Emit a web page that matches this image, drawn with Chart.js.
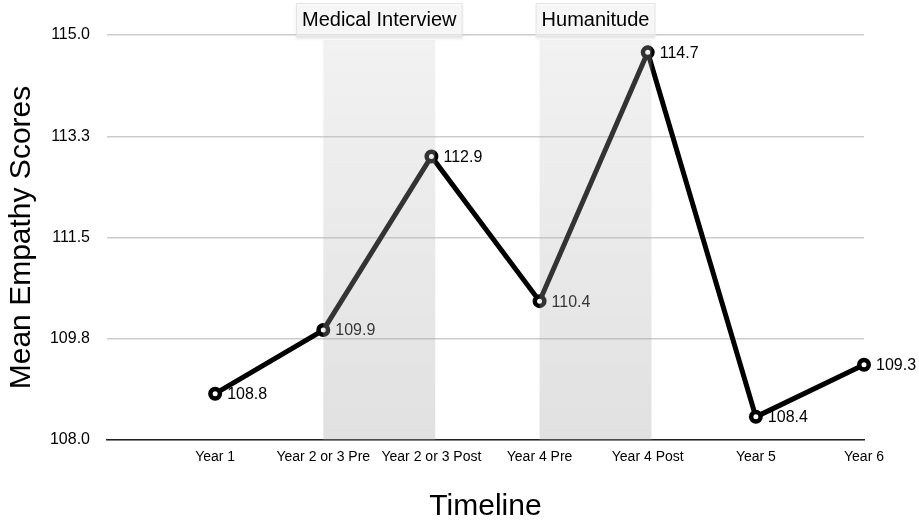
<!DOCTYPE html>
<html>
<head>
<meta charset="utf-8">
<script src="https://cdn.jsdelivr.net/npm/chart.js@4.4.0/dist/chart.umd.min.js"></script>
<style>
  html, body { margin: 0; padding: 0; background: #fff; }
  #wrap { width: 919px; height: 522px; }
</style>
</head>
<body>
<div id="wrap"><canvas id="c" width="919" height="522"></canvas></div>
<script>
// ---- data ----
const categories = ['', 'Year 1', 'Year 2 or 3 Pre', 'Year 2 or 3 Post', 'Year 4 Pre', 'Year 4 Post', 'Year 5', 'Year 6'];
const empathyScores = [null, 108.8, 109.9, 112.9, 110.4, 114.7, 108.4, 109.3];
const yTickValues = [108.0, 109.75, 111.5, 113.25, 115.0];
const bandStarts = ['Year 2 or 3 Pre', 'Year 4 Pre'];
const bandEnds = ['Year 2 or 3 Post', 'Year 4 Post'];
const bandLabels = ['Medical Interview', 'Humanitude'];

const FONT = '"Liberation Sans", Arial, Helvetica, sans-serif';

const overlayPlugin = {
  id: 'overlay',
  afterDatasetsDraw(chart) {
    const ctx = chart.ctx;
    const meta = chart.getDatasetMeta(0);
    const xs = chart.scales.x;
    const area = chart.chartArea;
    // value labels
    ctx.save();
    ctx.font = '16px ' + FONT;
    ctx.fillStyle = '#000';
    ctx.textAlign = 'left';
    ctx.textBaseline = 'middle';
    meta.data.forEach((pt, i) => {
      const v = empathyScores[i];
      if (v === null || v === undefined) return;
      ctx.fillText(v.toFixed(1), pt.x + 12, pt.y + 1);
    });
    ctx.restore();
    // shaded bands
    const step = xs.getPixelForValue(2) - xs.getPixelForValue(1);
    bandStarts.forEach((s, k) => {
      const x0 = xs.getPixelForValue(categories.indexOf(s));
      const x1 = xs.getPixelForValue(categories.indexOf(bandEnds[k])) + step * 0.035;
      const top = area.top + 5;
      const bottom = area.bottom;
      ctx.save();
      const g = ctx.createLinearGradient(0, top, 0, bottom);
      g.addColorStop(0, 'rgba(200,200,200,0.25)');
      g.addColorStop(1, 'rgba(160,160,160,0.32)');
      ctx.fillStyle = g;
      ctx.fillRect(x0, top, x1 - x0, bottom - top);
      // header box
      const cx = (x0 + x1) / 2;
      ctx.font = '20px ' + FONT;
      const w = ctx.measureText(bandLabels[k]).width + 12;
      const bx = cx - w / 2, by = 3, bh = 34;
      ctx.shadowColor = 'rgba(0,0,0,0.15)';
      ctx.shadowBlur = 2;
      ctx.shadowOffsetY = 1.5;
      ctx.fillStyle = 'rgba(255,255,255,0.55)';
      ctx.fillRect(bx, by, w, bh);
      ctx.shadowColor = 'transparent';
      ctx.strokeStyle = '#e4e4e4';
      ctx.lineWidth = 1;
      ctx.strokeRect(bx + 0.5, by + 0.5, w - 1, bh - 1);
      ctx.fillStyle = '#000';
      ctx.textAlign = 'center';
      ctx.textBaseline = 'middle';
      ctx.fillText(bandLabels[k], cx, 20);
      ctx.restore();
    });
  }
};

new Chart(document.getElementById('c'), {
  type: 'line',
  data: {
    labels: categories,
    datasets: [{
      data: empathyScores,
      borderColor: '#000',
      borderWidth: 5,
      pointRadius: 4.75,
      pointBorderWidth: 4.5,
      pointBackgroundColor: '#fff',
      pointBorderColor: '#000',
      tension: 0,
      spanGaps: false
    }]
  },
  options: {
    responsive: false,
    animation: false,
    devicePixelRatio: 1,
    layout: { padding: { top: 35, right: 55, left: 0, bottom: 0 } },
    plugins: { legend: { display: false }, tooltip: { enabled: false } },
    scales: {
      x: {
        offset: false,
        grid: { display: false, drawTicks: false },
        border: { display: true, color: '#222', width: 1.5 },
        ticks: { font: { family: FONT, size: 14 }, color: '#000', padding: 9, maxRotation: 0, autoSkip: false },
        title: { display: true, text: 'Timeline', font: { family: FONT, size: 30, lineHeight: 1 }, color: '#000', padding: { top: 0, bottom: 0 } },
        afterFit(s) { s.height = 82; }
      },
      y: {
        min: 108,
        max: 115,
        afterBuildTicks(s) { s.ticks = yTickValues.map(v => ({ value: v })); },
        grid: { color: '#cccccc', lineWidth: 1.5, drawTicks: false },
        border: { display: false },
        ticks: { font: { family: FONT, size: 16 }, color: '#000', padding: 17, callback: v => Number(v).toFixed(1) },
        title: { display: true, text: 'Mean Empathy Scores', font: { family: FONT, size: 30, lineHeight: 1.2 }, color: '#000', padding: { top: 4, bottom: 0 } },
        afterFit(s) { s.width = 107; }
      }
    }
  },
  plugins: [overlayPlugin]
});
</script>
</body>
</html>
